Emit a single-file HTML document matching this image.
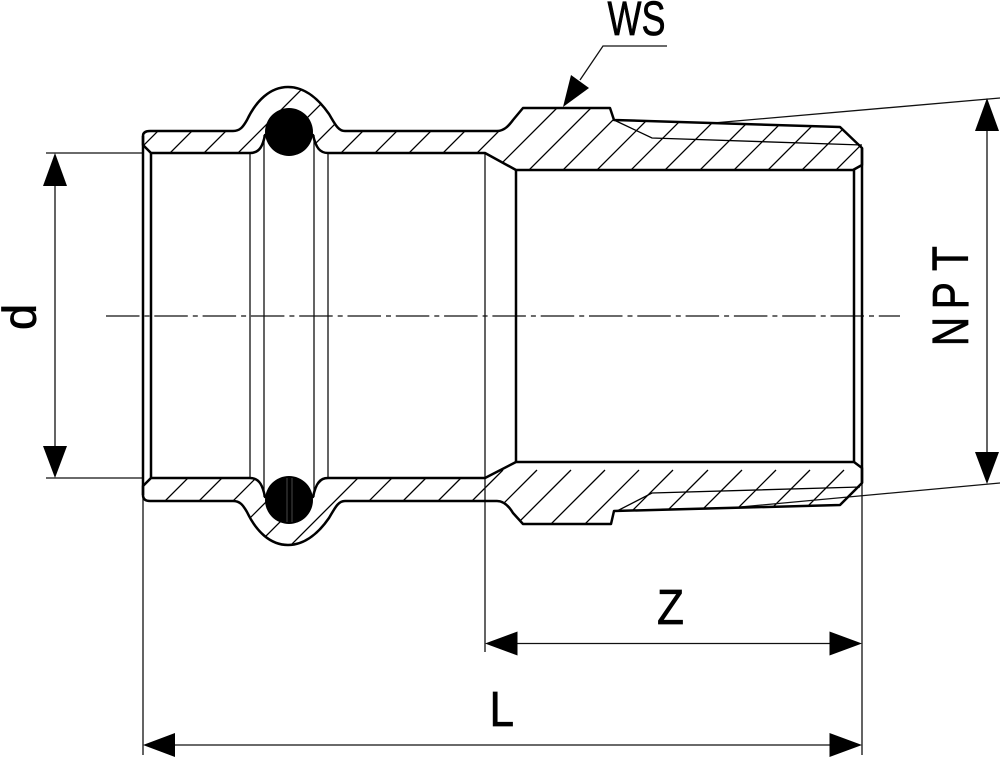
<!DOCTYPE html>
<html>
<head>
<meta charset="utf-8">
<style>
html,body{margin:0;padding:0;background:#fff;width:1000px;height:758px;overflow:hidden}
svg{display:block}
text{font-family:"Liberation Sans",sans-serif;fill:#000;stroke:#000;stroke-width:.7}
</style>
</head>
<body>
<svg width="1000" height="758" viewBox="0 0 1000 758" xmlns="http://www.w3.org/2000/svg">
<defs>
<path id="top" d="M143 145 L143 136 Q143 131 150 131 L233 131 C240 131 243 127 247 120 C256 101 270 87 288 87 C306 87 320 101 329 114 C335 124 338 131 345 131 L497 131 C505 131 510 124 513 120 L523 108 L610 108 L614 120 L840 127 L862 148 L862 165 L853 170 L516 170 L485 153 L328 153 C320 153 316 148 313 135 L265 135 C263 145 260 153 250 153 L151 153 Z"/>
<path id="bot" d="M143 486 L143 495 Q143 501 150 501 L233 501 C240 501 243 505 247 512 C256 531 270 545 288 545 C306 545 320 531 329 518 C335 508 338 501 345 501 L497 501 C505 501 510 508 513 513 L523 524 L611 524 L614 511 L840 505 L862 483 L862 468 L854 462 L516 462 L485 478 L328 478 C320 478 316 483 313 497 L265 497 C263 487 260 478 250 478 L151 478 Z"/>
<clipPath id="ct"><use href="#top"/></clipPath>
<clipPath id="cb"><use href="#bot"/></clipPath>
</defs>

<!-- hatching -->
<g fill="none" stroke="#000" stroke-width="1.3">
<path clip-path="url(#ct)" d="M204 85l-90 90M238 85l-90 90M272 85l-90 90M306 85l-90 90M340 85l-90 90M374 85l-90 90M409 85l-90 90M443 85l-90 90M477 85l-90 90M511 85l-90 90M545 85l-90 90M580 85l-90 90M614 85l-90 90M648 85l-90 90M682 85l-90 90M716 85l-90 90M750 85l-90 90M785 85l-90 90M819 85l-90 90M853 85l-90 90M887 85l-90 90M921 85l-90 90M955 85l-90 90"/>
<path clip-path="url(#cb)" d="M196 470l-90 90M230 470l-90 90M264 470l-90 90M298 470l-90 90M332 470l-90 90M366 470l-90 90M400 470l-90 90M434 470l-90 90M469 470l-90 90M503 470l-90 90M537 470l-90 90M571 470l-90 90M605 470l-90 90M639 470l-90 90M673 470l-90 90M708 470l-90 90M742 470l-90 90M776 470l-90 90M810 470l-90 90M844 470l-90 90"/>
<!-- thread lines -->
<path d="M614 120 L652 138 L862 145"/>
<path d="M617 511 L652 493 L860 487"/>
</g>

<!-- thin verticals and extensions -->
<g fill="none" stroke="#111" stroke-width="1.3">
<path d="M250 153V478M264 135V497M314 135V497M328 153V478M485 153V652"/>
<path d="M46 153H143M46 478H143"/>
<path d="M143 495V755M862 483V755"/>
<path d="M713 123L1000 98M740 507L1000 483"/>
<path d="M55 185V446M987 130V452M517 643.5H830M175 745H830"/>
<path d="M667 46H603L580 80"/>
<path d="M106 316H900" stroke-dasharray="33.5 5 5 4.8"/>
</g>

<!-- section outlines -->
<g fill="none" stroke="#000" stroke-width="2.5" stroke-linejoin="round">
<use href="#top"/>
<use href="#bot"/>
<path d="M143 136V495M151 153V478M516 170V462M854 170V462M862 148V483"/>
</g>

<!-- O-rings -->
<circle cx="289" cy="132" r="24" fill="#000"/>
<circle cx="289" cy="500" r="24" fill="#000"/>
<path d="M287 478V522M292 478V522" stroke="#666" stroke-width=".7" fill="none"/>

<!-- arrowheads -->
<g fill="#000">
<polygon points="55,153 43,186 67,186"/>
<polygon points="55,478 43,446 67,446"/>
<polygon points="987,98 975,131 999,131"/>
<polygon points="987,484 975,452 999,452"/>
<polygon points="485,643.5 517.5,631.5 517.5,655.5"/>
<polygon points="862,643.5 829.5,631.5 829.5,655.5"/>
<polygon points="143,745 175,733 175,757"/>
<polygon points="862,745 829.5,733 829.5,757"/>
<polygon points="563,107 571,75 589,88"/>
</g>

<!-- labels -->
<text transform="translate(36,328) rotate(-90)" x="-2" y="0" font-size="47">d</text>
<text transform="translate(968,343) rotate(-90) scale(.8,1)" x="-4 42 90" y="0" font-size="51">NPT</text>
<text transform="translate(607.5,35) scale(.75,1)" font-size="48">WS</text>
<text transform="translate(657,624) scale(.9,1)" font-size="49">Z</text>
<text transform="translate(489.5,726) scale(.9,1)" font-size="49">L</text>
</svg>
</body>
</html>
